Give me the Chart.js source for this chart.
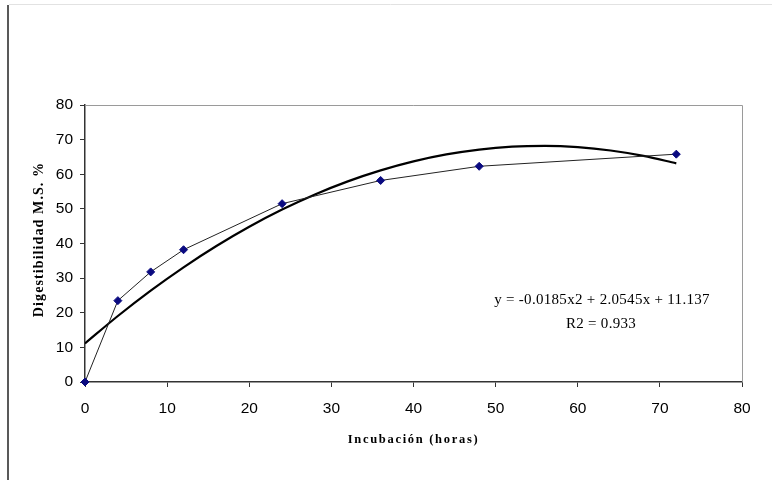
<!DOCTYPE html>
<html>
<head>
<meta charset="utf-8">
<script src="https://cdn.jsdelivr.net/npm/chart.js@4/dist/chart.umd.min.js"></script>
<style>
  html, body { margin: 0; padding: 0; background: #fff; }
  #wrap { width: 772px; height: 480px; position: relative; }
</style>
</head>
<body>
<div id="wrap"><canvas id="c" width="772" height="480"></canvas></div>
<script>
// Observed data
const hours = [0, 4, 8, 12, 24, 36, 48, 72];
const digestibility = [0, 23.5, 31.8, 38.2, 51.5, 58.2, 62.3, 65.8];

// Polynomial trend line values (tabulated from y = -0.0185x2 + 2.0545x + 11.137)
const trendHours = [0, 4, 8, 12, 16, 20, 24, 28, 32, 36, 40, 44, 48, 52, 56, 60, 64, 68, 72];
const trendValues = [11.14, 19.06, 26.39, 33.13, 39.27, 44.83, 49.79, 54.16, 57.94, 61.12, 63.72, 65.72, 67.13, 67.95, 68.17, 67.81, 66.85, 65.30, 63.16];

const xTitle = 'Incubación (horas)';
const yTitle = 'Digestibilidad M.S. %';
const equationLines = ['y = -0.0185x2 + 2.0545x + 11.137', 'R2 = 0.933'];

const tickFont = { family: '"Liberation Sans Narrow", "Arial Narrow", "Liberation Sans", Arial, sans-serif', size: 15.5 };

const decorations = {
  id: 'decorations',
  beforeDraw(chart) {
    const ctx = chart.ctx;
    ctx.save();
    ctx.strokeStyle = '#e2e2e2';
    ctx.lineWidth = 1;
    ctx.beginPath(); ctx.moveTo(9, 4.5); ctx.lineTo(772, 4.5); ctx.stroke();
    ctx.strokeStyle = '#222';
    ctx.lineWidth = 1.5;
    ctx.beginPath(); ctx.moveTo(8, 5); ctx.lineTo(8, 480); ctx.stroke();
    ctx.restore();
  },
  afterDraw(chart) {
    const ctx = chart.ctx;
    const a = chart.chartArea;
    ctx.save();
    ctx.strokeStyle = '#9a9a9a';
    ctx.lineWidth = 1;
    ctx.beginPath();
    ctx.moveTo(a.left, a.top + 0.5);
    ctx.lineTo(a.right + 0.5, a.top + 0.5);
    ctx.lineTo(a.right + 0.5, a.bottom);
    ctx.stroke();
    ctx.fillStyle = '#000';
    ctx.textAlign = 'center';
    ctx.textBaseline = 'alphabetic';
    ctx.font = 'bold 12.5px "Liberation Serif", "Times New Roman", serif';
    try { ctx.letterSpacing = '1.7px'; } catch (e) {}
    ctx.fillText(xTitle, (a.left + a.right) / 2, 443);
    ctx.save();
    ctx.translate(43, (a.top + a.bottom) / 2 - 4);
    ctx.rotate(-Math.PI / 2);
    ctx.font = 'bold 14px "Liberation Serif", "Times New Roman", serif';
    try { ctx.letterSpacing = '1.1px'; } catch (e) {}
    ctx.fillText(yTitle, 0, 0);
    ctx.restore();
    try { ctx.letterSpacing = '0.3px'; } catch (e) {}
    ctx.font = '15px "Liberation Serif", "Times New Roman", serif';
    ctx.fillText(equationLines[0], 602, 304);
    ctx.fillText(equationLines[1], 601, 328);
    ctx.restore();
  }
};

new Chart(document.getElementById('c'), {
  type: 'scatter',
  data: {
    datasets: [
      {
        label: 'Trend',
        data: trendHours.map((h, i) => ({ x: h, y: trendValues[i] })),
        showLine: true,
        borderColor: '#000',
        borderWidth: 2.2,
        pointRadius: 0,
        cubicInterpolationMode: 'monotone',
        order: 2
      },
      {
        label: 'Digestibilidad',
        data: hours.map((h, i) => ({ x: h, y: digestibility[i] })),
        showLine: true,
        borderColor: '#222',
        borderWidth: 1,
        pointStyle: 'rectRot',
        pointRadius: 4,
        pointBackgroundColor: '#0a0a80',
        pointBorderColor: '#0a0a80',
        pointBorderWidth: 1,
        tension: 0,
        clip: false,
        order: 1
      }
    ]
  },
  options: {
    responsive: false,
    animation: false,
    devicePixelRatio: 1,
    layout: { padding: { left: 0, top: 105, right: 30, bottom: 0 } },
    plugins: {
      legend: { display: false },
      tooltip: { enabled: false },
      title: { display: false }
    },
    scales: {
      x: {
        type: 'linear',
        min: 0, max: 80,
        ticks: { stepSize: 10, color: '#000', font: tickFont, padding: 12, maxRotation: 0 },
        grid: { drawOnChartArea: false, drawTicks: true, tickLength: 5, color: '#333' },
        border: { color: '#333', width: 1.5 },
        afterFit(scale) { scale.height = 98; }
      },
      y: {
        type: 'linear',
        min: 0, max: 80,
        ticks: { stepSize: 10, color: '#000', font: tickFont, padding: 7 },
        grid: { drawOnChartArea: false, drawTicks: true, tickLength: 5, color: '#333' },
        border: { color: '#333', width: 1.5 },
        afterFit(scale) { scale.width = 85; }
      }
    }
  },
  plugins: [decorations]
});
</script>
</body>
</html>
